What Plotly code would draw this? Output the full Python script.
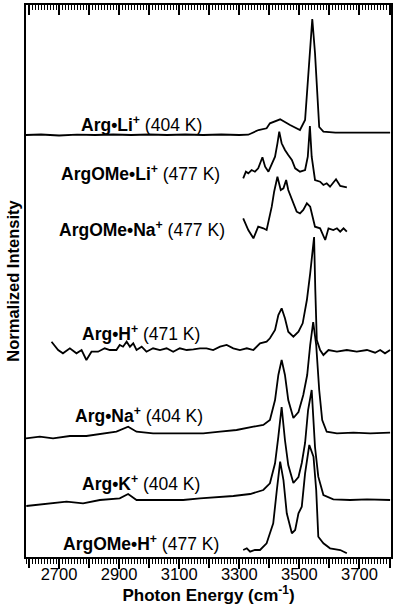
import plotly.graph_objects as go

# wavenumbers (cm-1) and intensity above each spectrum's own baseline (arb. units)
li_x = [2590, 2640, 2700, 2760, 2820, 2880, 2940, 3000, 3060, 3120, 3180, 3240, 3300, 3330,
        3364, 3391, 3402, 3436, 3469, 3502, 3519, 3527, 3536, 3543, 3552, 3560, 3566, 3580,
        3620, 3700, 3802]
li_y = [0, 0.5, -0.5, 0.3, 0, 0.5, 0, 0.5, 0, 0.5, 0, 0.5, 0, 0.3,
        5, 6.7, 11.7, 15.7, 10, 5, 15, 48, 95, 116, 82, 32, 8, 3.3,
        2.3, 2.3, 2.3]

ome_li_x = [3313, 3322, 3330, 3341, 3352, 3363, 3377, 3386, 3397, 3411, 3419, 3427, 3433,
            3441, 3452, 3463, 3475, 3486, 3502, 3519, 3528, 3535, 3541, 3552, 3569, 3580,
            3591, 3602, 3622, 3636, 3658]
ome_li_y = [9.7, 16.3, 14.7, 18, 16.3, 19.7, 30.7, 21.3, 16.3, 26.3, 31.3, 44.7, 56.3,
            44.7, 38, 33, 28, 19.7, 16.3, 18, 31.3, 62, 31.3, 8, 6.3, 3,
            4.7, 1.3, 8.7, 2, 0.7]

ome_na_x = [3313, 3330, 3347, 3363, 3380, 3391, 3408, 3416, 3427, 3438, 3447, 3456, 3463,
            3475, 3491, 3502, 3513, 3525, 3536, 3552, 3569, 3586, 3597, 3613, 3625, 3636,
            3647, 3658]
ome_na_y = [21.7, 10, 1.7, 13.3, 11.7, 10, 33.3, 48.3, 63.3, 50, 51.7, 60, 50,
            40, 28.3, 26.7, 30, 36.7, 33.3, 13.3, 11.7, 0, 11.7, 10, 11.7, 8.3,
            11.7, 8.3]

h_x = [2675, 2697, 2713, 2736, 2758, 2775, 2791, 2808, 2830, 2852, 2869, 2891, 2902, 2913,
       2925, 2936, 2947, 2958, 2975, 2991, 3013, 3036, 3058, 3080, 3102, 3125, 3147, 3169,
       3191, 3213, 3236, 3258, 3280, 3302, 3325, 3347, 3369, 3391, 3402, 3419, 3430, 3441,
       3452, 3463, 3480, 3497, 3511, 3525, 3536, 3549, 3553, 3558, 3569, 3580, 3597, 3625,
       3658, 3691, 3725, 3752, 3769, 3785, 3802]
h_y = [8.3, 0, -3.3, 1.7, -3.3, 0, -10, -1.7, -1.7, 1.7, 0, 0, 5, 3.3,
       8.3, 3.3, 6.7, 0, 3.3, -1.7, 1.7, 0, 1.7, -1.7, 1.7, 0, 0.7, 1.7,
       1.7, 0, 3.3, 5, 1.7, 0, 1.7, 0, 6.7, 8.3, 11.7, 20, 35, 41.7,
       31.7, 18.3, 13.3, 18.3, 26.7, 50, 76.7, 113, 60, 10, 0, -5, 0, -1.7,
       0, -1.7, 0, -2.7, 0, -3.3, 0]

na_x = [2590, 2636, 2680, 2736, 2791, 2847, 2891, 2930, 2958, 3013, 3069, 3125, 3180, 3236,
        3291, 3347, 3380, 3402, 3419, 3430, 3441, 3452, 3463, 3480, 3497, 3513, 3526, 3536,
        3546, 3556, 3566, 3576, 3591, 3625, 3680, 3736, 3802]
na_y = [-3.3, -1.7, -3.3, -1, -1, 1.7, 3.3, 8.3, 3.3, 1.7, 1.7, 2.3, 1.7, 3.3,
        5, 8.3, 10, 15, 35, 60, 75, 60, 35, 17, 23, 40, 60, 90,
        113, 90, 45, 15, 3.3, 1.7, 2.3, 1.7, 2.3]

k_x = [2591, 2669, 2725, 2780, 2836, 2902, 2930, 2958, 3002, 3058, 3113, 3169, 3225, 3280,
       3336, 3380, 3402, 3419, 3430, 3441, 3452, 3463, 3480, 3497, 3508, 3519, 3529, 3541,
       3552, 3563, 3580, 3613, 3669, 3725, 3802]
k_y = [-6, -3.3, -1.7, -3.3, 0, 1.7, 6, 0, 0, 0.7, 0, 1.7, 2.7, 4,
       6, 10, 16.7, 36.7, 63.3, 93, 60, 35, 17, 23, 37, 57, 90, 110,
       53, 23.3, 5, 0.7, 0, 0.7, 0]

ome_h_x = [3313, 3325, 3336, 3352, 3369, 3380, 3391, 3402, 3413, 3425, 3436, 3447, 3458,
           3475, 3486, 3497, 3508, 3519, 3533, 3547, 3556, 3563, 3580, 3602, 3636, 3658]
ome_h_y = [2, 3.7, 0.3, 2, 2, 5.3, 8.7, 18.7, 28.7, 62, 90.3, 72, 38.7,
           18.7, 22, 38.7, 45.3, 78.7, 107, 95.3, 62, 15.3, 8.7, 3.7, 2, -1.3]

names = ["Arg•Li", "ArgOMe•Li", "ArgOMe•Na", "Arg•H", "Arg•Na", "Arg•K", "ArgOMe•H"]
temps = [404, 477, 477, 471, 404, 404, 477]
offsets = [422, 369, 317, 207, 122, 57, 5]
spectra = [(li_x, li_y), (ome_li_x, ome_li_y), (ome_na_x, ome_na_y), (h_x, h_y),
           (na_x, na_y), (k_x, k_y), (ome_h_x, ome_h_y)]

# where each label ends (cm-1) and its height
label_x = [3182, 3241, 3258, 3175, 3186, 3175, 3238]
label_y = [433, 384, 328, 224, 142, 74, 14]

labeled_ticks = [2700, 2900, 3100, 3300, 3500, 3700]
all_ticks = list(range(2600, 3801, 100))

FONT = "Liberation Sans, Arial, sans-serif"

fig = go.Figure()
for (xs, ys), off in zip(spectra, offsets):
    fig.add_trace(go.Scatter(x=xs, y=[v + off for v in ys], mode="lines",
                             line=dict(color="black", width=1.8), showlegend=False))

# empty traces so the extra tick axes (top inside, bottom every 100) are drawn
fig.add_trace(go.Scatter(x=[None], y=[None], xaxis="x2", showlegend=False, hoverinfo="skip"))
fig.add_trace(go.Scatter(x=[None], y=[None], xaxis="x3", showlegend=False, hoverinfo="skip"))

for name, t, lx, ly in zip(names, temps, label_x, label_y):
    fig.add_annotation(x=lx, y=ly, xanchor="right", yanchor="middle", showarrow=False,
                       text=f"<b>{name}<sup>+</sup></b> ({t} K)",
                       font=dict(size=17.5, color="black", family=FONT))

fig.update_layout(
    width=400, height=611,
    margin=dict(l=26, r=9, t=5, b=54),
    plot_bgcolor="white", paper_bgcolor="white",
    font=dict(family=FONT, color="black", size=16),
    xaxis=dict(range=[2590, 3805], tickvals=labeled_ticks, automargin=False,
               ticks="outside", ticklen=10, tickwidth=1.5, tickcolor="black",
               ticklabelstandoff=-9,
               minor=dict(dtick=10, tick0=2600, ticks="outside", ticklen=5, tickwidth=1,
                          tickcolor="black"),
               showline=True, linewidth=2, linecolor="black", mirror=True,
               showgrid=False, zeroline=False,
               tickfont=dict(size=16.5),
               title=dict(text="<b>Photon Energy (cm<sup>-1</sup>)</b>", standoff=4,
                          font=dict(size=17))),
    xaxis2=dict(matches="x", overlaying="x", side="top", tickvals=all_ticks,
                showticklabels=False, ticks="inside", ticklen=10, tickwidth=1.5,
                tickcolor="black", automargin=False,
                minor=dict(dtick=10, tick0=2600, ticks="inside", ticklen=5, tickwidth=1,
                           tickcolor="black"),
                showgrid=False, zeroline=False, showline=False),
    xaxis3=dict(matches="x", overlaying="x", side="bottom", tickvals=all_ticks,
                showticklabels=False, ticks="outside", ticklen=10, tickwidth=1.5,
                tickcolor="black", automargin=False,
                showgrid=False, zeroline=False, showline=False),
    yaxis=dict(range=[0, 552], showticklabels=False, ticks="", showgrid=False,
               zeroline=False, showline=True, linewidth=2, linecolor="black", mirror=True,
               automargin=False,
               title=dict(text="<b>Normalized Intensity</b>", standoff=0,
                          font=dict(size=16.5))),
)

# drop the page's default body margin so the figure sits at the window corner
fig.write_html("out.html", config={"displayModeBar": False},
               post_script="document.body.style.margin='0';")
